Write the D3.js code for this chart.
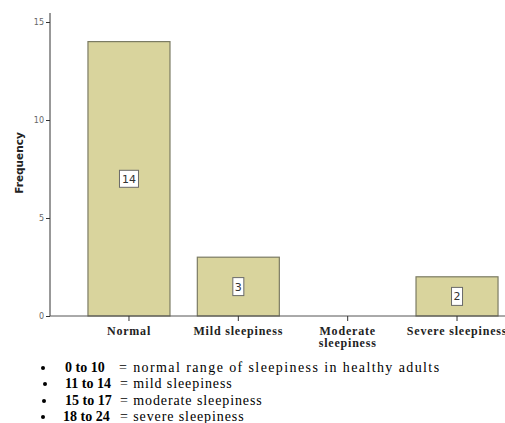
<!DOCTYPE html>
<html><head><meta charset="utf-8">
<script src="https://cdn.jsdelivr.net/npm/d3@7"></script>
<style>body{margin:0;background:#fff;}svg{display:block;}</style>
</head><body>
<svg id="c" width="505" height="423"></svg>
<script>
const categories = ["Normal", "Mild sleepiness", "Moderate sleepiness", "Severe sleepiness"];
const frequencies = [14, 3, 0, 2];
const yTicks = [0, 5, 10, 15];
const notesBold = ["0 to 10", "11 to 14", "15 to 17", "18 to 24"];
const notesText = ["= normal range of sleepiness in healthy adults", "= mild sleepiness", "= moderate sleepiness", "= severe sleepiness"];

const svg = d3.select("#c");
const x = d3.scaleBand().domain(categories).range([74.3, 511.7]).paddingInner(0.25).paddingOuter(0.125);
const y = d3.scaleLinear().domain([0, 15]).range([316, 22]);

const data = categories.map((c,i)=>({c, v: frequencies[i]})).filter(d=>d.v>0);

// bars
svg.selectAll("rect.bar").data(data)
  .enter().append("rect").attr("class","bar")
  .attr("x", d=>x(d.c)).attr("width", x.bandwidth())
  .attr("y", d=>y(d.v)).attr("height", d=>y(0)-y(d.v))
  .attr("fill", "#d9d49d").attr("stroke", "#7b7b63").attr("stroke-width", 1.2);

// value labels
const lab = svg.selectAll("g.lab").data(data)
  .enter().append("g").attr("class","lab")
  .attr("transform", d=>`translate(${x(d.c)+x.bandwidth()/2},${(y(d.v)+y(0))/2})`);
lab.append("rect")
  .attr("x", d=>d.v>=10?-9.5:-5.5).attr("y", d=>d.v>=10?-8.5:-9)
  .attr("width", d=>d.v>=10?19:11).attr("height", d=>d.v>=10?17:18)
  .attr("fill","#fff").attr("stroke","#6a6a6a").attr("stroke-width",1);
lab.append("text").attr("text-anchor","middle").attr("dy","0.36em")
  .attr("font-family","DejaVu Sans, sans-serif").attr("font-size",11).attr("fill","#333")
  .text(d=>d.v);

// y axis
const yAxis = svg.append("g").attr("transform","translate(50,0)")
  .call(d3.axisLeft(y).tickValues(yTicks).tickSize(4).tickPadding(2));
yAxis.select(".domain").attr("d","M0,13V316").attr("stroke","#333");
yAxis.selectAll(".tick line").attr("stroke","#333");
yAxis.selectAll(".tick text").attr("font-family","DejaVu Sans, sans-serif").attr("font-size",8).attr("fill","#666");

// x axis
const xAxis = svg.append("g").attr("transform","translate(0,316)")
  .call(d3.axisBottom(x).tickSize(5).tickFormat(""));
xAxis.select(".domain").attr("d","M50,0H505").attr("stroke","#555");
xAxis.selectAll(".tick line").attr("stroke","#333");
xAxis.selectAll(".tick").each(function(d){
  const words = d === "Moderate sleepiness" ? ["Moderate","sleepiness"] : [d];
  const g = d3.select(this);
  words.forEach((w,i)=>g.append("text").attr("text-anchor","middle")
    .attr("font-family","Liberation Serif, Times New Roman, serif").attr("font-weight","bold")
    .attr("font-size",12).attr("letter-spacing",0.8).attr("fill","#222")
    .attr("x",0).attr("y",19+i*12).text(w));
});

// y title
svg.append("text").attr("transform","translate(23,163) rotate(-90)").attr("text-anchor","middle")
  .attr("font-family","DejaVu Sans, sans-serif").attr("font-weight","bold").attr("font-size",10.5)
  .attr("fill","#222").text("Frequency");

// notes
const bulletX = [43, 45, 44, 43];
const boldX = [65, 65, 65, 63];
const eqX = [119, 120, 120, 120];
const rowY = [372, 388, 405, 421];
const spacing = [1.4, 0.9, 0.9, 0.9];
notesBold.forEach((b,i)=>{
  svg.append("circle").attr("cx", bulletX[i]).attr("cy", rowY[i]-4).attr("r",2).attr("fill","#000");
  svg.append("text").attr("x", boldX[i]).attr("y", rowY[i])
    .attr("font-family","Liberation Serif, Times New Roman, serif").attr("font-weight","bold")
    .attr("font-size",14).text(b);
  svg.append("text").attr("x", eqX[i]).attr("y", rowY[i])
    .attr("font-family","Liberation Serif, Times New Roman, serif").attr("letter-spacing",spacing[i])
    .attr("font-size",14).text(notesText[i]);
});
</script>
</body></html>
